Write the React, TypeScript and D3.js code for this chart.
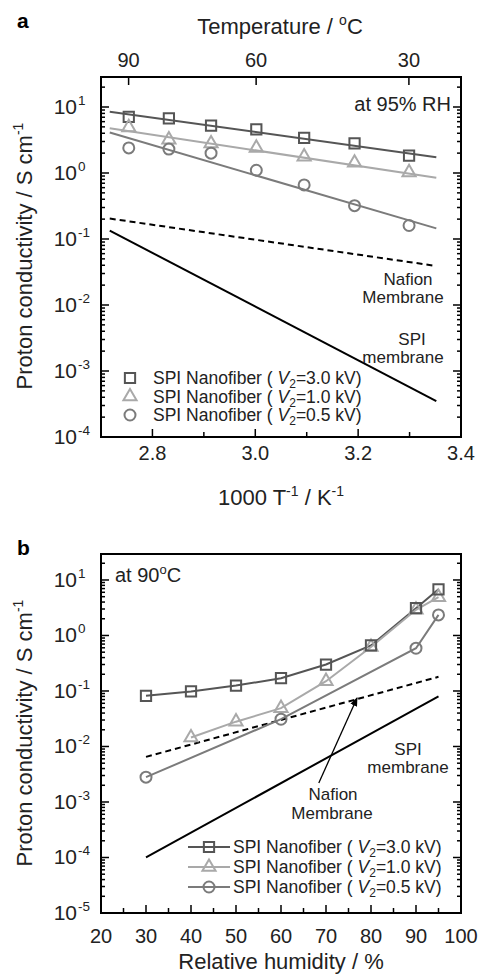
import React from 'react';
import * as d3 from 'd3';

const FONT = "'Liberation Sans', Arial, Helvetica, sans-serif";

// ---------- Panel a data ----------
const invTemp = [2.754, 2.832, 2.914, 3.002, 3.095, 3.193, 3.299];
const topTempTicks = [90, 60, 30];
const sigmaSq_a = [7.1, 6.7, 5.2, 4.6, 3.4, 2.8, 1.83];
const sigmaTri_a = [4.9, 3.2, 2.8, 2.4, 1.77, 1.43, 1.02];
const sigmaCirc_a = [2.4, 2.3, 2.0, 1.1, 0.66, 0.32, 0.16];
const fitInvTemp = [2.717, 3.352];
const fitSq_a = [8.5, 1.73];
const fitTri_a = [4.75, 0.85];
const fitCirc_a = [4.1, 0.145];
const nafion_a = [0.204, 0.039];
const spiMembrane_a = [0.134, 3.5e-4];
const xMajorA = [2.8, 3.0, 3.2, 3.4];
const xMinorA = [2.9, 3.1, 3.3];

// ---------- Panel b data ----------
const rhSq = [30, 40, 50, 60, 70, 80, 90, 95];
const sigmaSq_b = [0.082, 0.098, 0.125, 0.17, 0.3, 0.66, 3.1, 6.8];
const rhTri = [40, 50, 60, 70, 80, 90, 95];
const sigmaTri_b = [0.0145, 0.028, 0.049, 0.15, 0.62, 2.9, 4.9];
const rhCirc = [30, 60, 90, 95];
const sigmaCirc_b = [0.0028, 0.031, 0.59, 2.35];
const rhLine = [30, 95];
const nafion_b = [0.0065, 0.18];
const spiMembrane_b = [1.0e-4, 0.08];
const xMajorB = [20, 30, 40, 50, 60, 70, 80, 90, 100];
const xMinorB = [25, 35, 45, 55, 65, 75, 85, 95];

const legendLabels = ['3.0', '1.0', '0.5'];
const seriesColors = ['#555555', '#a9a9a9', '#7b7b7b'];
const seriesShapes = [d3.symbolSquare, d3.symbolTriangle, d3.symbolCircle];
const seriesSizes = [105, 75, 95];

// ---------- scales ----------
const xA = d3.scaleLinear().domain([2.7, 3.4]).range([101, 461]);
const yA = d3.scaleLog().domain([1e-4, Math.pow(10, 1.4545)]).range([437, 77]);
const xB = d3.scaleLinear().domain([20, 100]).range([101, 461]);
const yB = d3.scaleLog().domain([1e-5, Math.pow(10, 1.468)]).range([913, 554]);

const isPow10 = (t: number) => Math.abs(Math.log10(t) - Math.round(Math.log10(t))) < 1e-9;

function Marker({ i, x, y }: { i: number; x: number; y: number }) {
  const p = d3.symbol().type(seriesShapes[i]).size(seriesSizes[i])() as string;
  return (
    <path d={p} transform={`translate(${x},${y})`} fill="none" stroke={seriesColors[i]} strokeWidth={2} />
  );
}

function LogYAxis({ y, x0, x1 }: { y: any; x0: number; x1: number }) {
  const ticks: number[] = y.ticks();
  return (
    <g>
      {ticks.map((t, k) => {
        const major = isPow10(t);
        const len = major ? 8 : 4;
        const yy = y(t);
        return (
          <g key={k}>
            <line x1={x0} x2={x0 + len} y1={yy} y2={yy} stroke="#000" strokeWidth={1.5} />
            <line x1={x1} x2={x1 - len} y1={yy} y2={yy} stroke="#000" strokeWidth={1.5} />
          </g>
        );
      })}
      {ticks.filter(isPow10).map((t, k) => {
        const e = Math.round(Math.log10(t));
        const yy = y(t);
        return (
          <g key={'l' + k}>
            <text x={x0 - 24} y={yy + 7} textAnchor="end" fontSize={21} fontFamily={FONT} fill="#222">10</text>
            <text x={x0 - 23} y={yy - 2} textAnchor="start" fontSize={13.5} fontFamily={FONT} fill="#222">{e < 0 ? '-' + Math.abs(e) : String(e)}</text>
          </g>
        );
      })}
    </g>
  );
}

function YTitle({ cy }: { cy: number }) {
  return (
    <text transform={`translate(32,${cy}) rotate(-90)`} textAnchor="middle" fontSize={22} fontFamily={FONT} fill="#222">
      <tspan>Proton conductivity / S cm</tspan>
      <tspan fontSize={14} dy={-9}>-1</tspan>
    </text>
  );
}

function LegendText({ x, y, v }: { x: number; y: number; v: string }) {
  return (
    <text x={x} y={y} fontSize={17.5} fontFamily={FONT} fill="#222" style={{ whiteSpace: 'pre' }}>
      <tspan>{'SPI Nanofiber ( '}</tspan>
      <tspan fontStyle="italic">V</tspan>
      <tspan fontSize={12} dy={4}>2</tspan>
      <tspan dy={-4}>{'=' + v + ' kV)'}</tspan>
    </text>
  );
}

export default function App() {
  const lineA = d3.line<number>().x((d, i) => xA(fitInvTemp[i])).y((d) => yA(d));
  const lineB = (xs: number[]) => d3.line<number>().x((d, i) => xB(xs[i])).y((d) => yB(d));

  const fitsA = [fitSq_a, fitTri_a, fitCirc_a];
  const dataA = [sigmaSq_a, sigmaTri_a, sigmaCirc_a];
  const dataB = [sigmaSq_b, sigmaTri_b, sigmaCirc_b];
  const xsB = [rhSq, rhTri, rhCirc];

  return (
    <svg width={480} height={976} style={{ position: 'absolute', left: 0, top: 0, background: '#fff' }}>
      <rect x={0} y={0} width={480} height={976} fill="#fff" />
      <defs>
        <marker id="arrowHead" viewBox="0 0 10 10" refX={9} refY={5} markerWidth={9} markerHeight={9} orient="auto" markerUnits="userSpaceOnUse">
          <path d="M0,1 L10,5 L0,9 Z" fill="#000" />
        </marker>
      </defs>

      {/* ================= Panel a ================= */}
      <text x={17} y={28} fontSize={21} fontWeight="bold" fontFamily={FONT}>a</text>
      <text x={280} y={34} textAnchor="middle" fontSize={22} fontFamily={FONT} fill="#222">
        <tspan>Temperature / </tspan>
        <tspan fontSize={14} dy={-9}>o</tspan>
        <tspan dy={9}>C</tspan>
      </text>
      {topTempTicks.map((t) => {
        const xx = xA(1000 / (t + 273.15));
        return (
          <g key={t}>
            <line x1={xx} x2={xx} y1={77} y2={85} stroke="#000" strokeWidth={1.5} />
            <text x={xx} y={67} textAnchor="middle" fontSize={20} fontFamily={FONT} fill="#222">{t}</text>
          </g>
        );
      })}
      {xMajorA.map((t) => (
        <g key={t}>
          <line x1={xA(t)} x2={xA(t)} y1={437} y2={429} stroke="#000" strokeWidth={1.5} />
          <text x={xA(t)} y={460} textAnchor="middle" fontSize={20} fontFamily={FONT} fill="#222">{t.toFixed(1)}</text>
        </g>
      ))}
      {xMinorA.map((t) => (
        <line key={t} x1={xA(t)} x2={xA(t)} y1={437} y2={432} stroke="#000" strokeWidth={1.5} />
      ))}
      <LogYAxis y={yA} x0={101} x1={461} />
      <text x={281} y={505} textAnchor="middle" fontSize={22} fontFamily={FONT} fill="#222">
        <tspan>1000 T</tspan>
        <tspan fontSize={14} dy={-9}>-1</tspan>
        <tspan dy={9}> / K</tspan>
        <tspan fontSize={14} dy={-9}>-1</tspan>
      </text>
      <YTitle cy={256} />

      {/* reference lines */}
      <path d={lineA(nafion_a) as string} fill="none" stroke="#000" strokeWidth={2} strokeDasharray="6,4" />
      <path d={lineA(spiMembrane_a) as string} fill="none" stroke="#000" strokeWidth={2} />
      {fitsA.map((f, i) => (
        <path key={i} d={lineA(f) as string} fill="none" stroke={seriesColors[i]} strokeWidth={2} />
      ))}
      {dataA.map((s, i) =>
        s.map((v, k) => <Marker key={i + '-' + k} i={i} x={xA(invTemp[k])} y={yA(v)} />)
      )}

      <text x={451} y={111} textAnchor="end" fontSize={20} fontFamily={FONT} fill="#222">at 95% RH</text>
      <text x={408} y={285} textAnchor="middle" fontSize={17} fontFamily={FONT} fill="#222">Nafion</text>
      <text x={403} y={303} textAnchor="middle" fontSize={17} fontFamily={FONT} fill="#222">Membrane</text>
      <text x={412} y={345} textAnchor="middle" fontSize={17} fontFamily={FONT} fill="#222">SPI</text>
      <text x={403} y={363} textAnchor="middle" fontSize={17} fontFamily={FONT} fill="#222">membrane</text>

      {legendLabels.map((v, i) => {
        const cy = 378 + i * 18.5;
        return (
          <g key={v}>
            <Marker i={i} x={130} y={cy} />
            <LegendText x={153} y={cy + 6} v={v} />
          </g>
        );
      })}

      <rect x={101} y={77} width={360} height={360} fill="none" stroke="#000" strokeWidth={2} />

      {/* ================= Panel b ================= */}
      <text x={17} y={555} fontSize={21} fontWeight="bold" fontFamily={FONT}>b</text>
      {xMajorB.map((t) => (
        <g key={t}>
          <line x1={xB(t)} x2={xB(t)} y1={913} y2={905} stroke="#000" strokeWidth={1.5} />
          <text x={xB(t)} y={943} textAnchor="middle" fontSize={20} fontFamily={FONT} fill="#222">{t}</text>
        </g>
      ))}
      {xMinorB.map((t) => (
        <line key={t} x1={xB(t)} x2={xB(t)} y1={913} y2={908} stroke="#000" strokeWidth={1.5} />
      ))}
      <LogYAxis y={yB} x0={101} x1={461} />
      <text x={281} y={969} textAnchor="middle" fontSize={22} fontFamily={FONT} fill="#222">Relative humidity / %</text>
      <YTitle cy={733} />

      <path d={lineB(rhLine)(nafion_b) as string} fill="none" stroke="#000" strokeWidth={2} strokeDasharray="6,4" />
      <path d={lineB(rhLine)(spiMembrane_b) as string} fill="none" stroke="#000" strokeWidth={2} />
      {dataB.map((s, i) => (
        <path key={'lb' + i} d={lineB(xsB[i])(s) as string} fill="none" stroke={seriesColors[i]} strokeWidth={2} />
      ))}
      {[1, 2, 0].map((i) =>
        dataB[i].map((v, k) => <Marker key={'mb' + i + '-' + k} i={i} x={xB(xsB[i][k])} y={yB(v)} />)
      )}

      {/* arrow to Nafion line */}
      <line x1={xB(68.4)} y1={yB(0.0022)} x2={xB(76.9)} y2={yB(0.075)} stroke="#000" strokeWidth={1.3} markerEnd="url(#arrowHead)" />

      <text x={115} y={582} fontSize={20} fontFamily={FONT} fill="#222">
        <tspan>at 90</tspan>
        <tspan fontSize={13} dy={-8}>o</tspan>
        <tspan dy={8}>C</tspan>
      </text>
      <text x={408} y={755} textAnchor="middle" fontSize={17} fontFamily={FONT} fill="#222">SPI</text>
      <text x={408} y={773} textAnchor="middle" fontSize={17} fontFamily={FONT} fill="#222">membrane</text>
      <text x={333} y={800} textAnchor="middle" fontSize={17} fontFamily={FONT} fill="#222">Nafion</text>
      <text x={332} y={819} textAnchor="middle" fontSize={17} fontFamily={FONT} fill="#222">Membrane</text>

      {legendLabels.map((v, i) => {
        const cy = 847 + i * 20;
        return (
          <g key={'lg' + v}>
            <line x1={188} x2={230} y1={cy} y2={cy} stroke={seriesColors[i]} strokeWidth={2} />
            <Marker i={i} x={209} y={cy} />
            <LegendText x={233} y={cy + 6} v={v} />
          </g>
        );
      })}

      <rect x={101} y={554} width={360} height={359} fill="none" stroke="#000" strokeWidth={2} />
    </svg>
  );
}
